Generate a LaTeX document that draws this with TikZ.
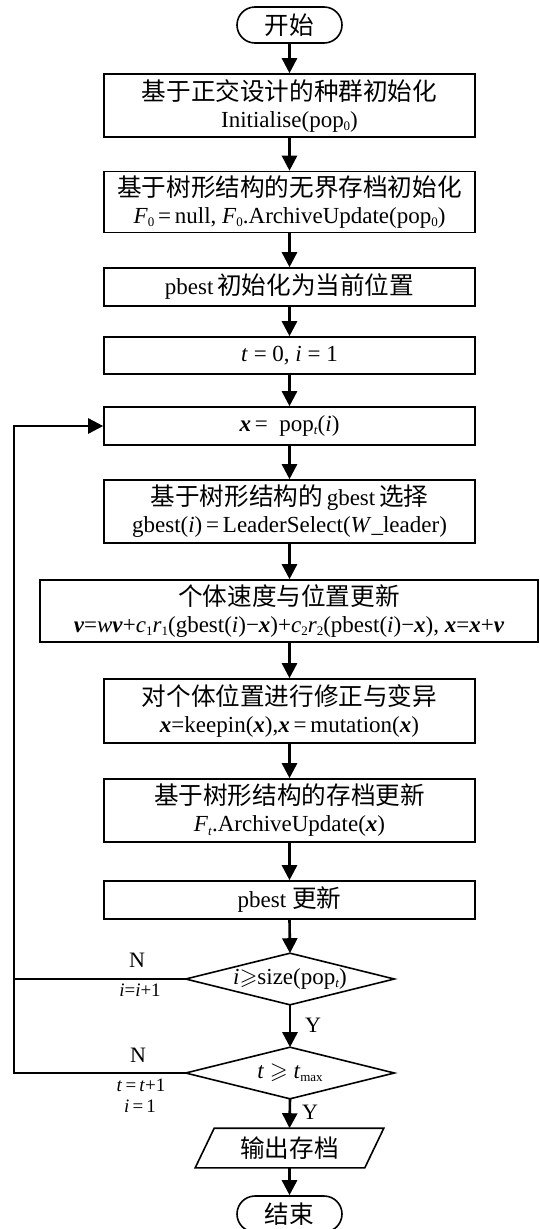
\documentclass[tikz,border=0pt]{standalone}
\usepackage{amssymb}
\usepackage{fontspec}
\setmainfont{Liberation Serif}
\newfontfamily\cjk[Scale=1.07]{Noto Sans CJK SC}
\usetikzlibrary{arrows.meta,shapes.geometric,calc}
\newcommand{\bx}{\textbf{\textit{x}}}
\newcommand{\bv}{\textbf{\textit{v}}}
\newcommand{\mysub}[1]{\raisebox{-0.3ex}{\fontsize{13}{13}\selectfont #1}}
\begin{document}
\begin{tikzpicture}[x=1pt,y=-1pt,
  base/.style={line width=1.6pt, inner sep=0pt, align=center, font=\fontsize{23}{27}\selectfont},
  box/.style={base, draw, minimum width=371pt},
  term/.style={base, draw, rounded corners=18pt, minimum width=105pt, minimum height=36pt},
  dia/.style={base, minimum width=207pt, minimum height=50pt},
  outline/.style={line width=1.6pt, line join=miter},
  arr/.style={line width=2.6pt, -{Triangle[width=15pt,length=15pt]}},
  loopline/.style={line width=2.8pt},
  lbl/.style={inner sep=0pt, font=\fontsize{22}{24}\selectfont},
  slbl/.style={inner sep=0pt, font=\fontsize{19}{22}\selectfont}]
\useasboundingbox (0,0) rectangle (540,1229);

\node[term] (start) at (289.5,25) {\cjk 开始};
\node[box, minimum height=63pt] (b1) at (289.5,105.5) {{\cjk 基于正交设计的种群初始化}\\Initialise(pop\mysub{0})};
\node[box, minimum height=61pt] (b2) at (289.5,202) {{\cjk 基于树形结构的无界存档初始化}\\\textit{F}\mysub{0}\,=\,null, \textit{F}\mysub{0}.ArchiveUpdate(pop\mysub{0})};
\node[box, minimum height=38pt] (b3) at (289.5,287) {pbest\,{\cjk 初始化为当前位置}};
\node[box, minimum height=37pt] (b4) at (289.5,355.5) {\textit{t} = 0, \textit{i} = 1};
\node[box, minimum height=38pt] (b5) at (289.5,426) {\bx\,= \ pop\mysub{\textit{t}}(\textit{i})};
\node[box, minimum height=63pt] (b6) at (289.5,511.5) {{\cjk 基于树形结构的}\,gbest\,{\cjk 选择}\\gbest(\textit{i})\,=\,LeaderSelect(\textit{W}\_leader)};
\node[box, minimum height=62pt, minimum width=498pt] (b7) at (289,611) {{\cjk 个体速度与位置更新}\\\bv=\textit{w}\bv+\textit{c}\mysub{1}\textit{r}\mysub{1}(gbest(\textit{i})−\bx)+\textit{c}\mysub{2}\textit{r}\mysub{2}(pbest(\textit{i})−\bx), \bx=\bx+\bv};
\node[box, minimum height=64pt] (b8) at (289.5,711) {{\cjk 对个体位置进行修正与变异}\\\bx=keepin(\bx),\bx\,=\,mutation(\bx)};
\node[box, minimum height=63pt] (b9) at (289.5,810.5) {{\cjk 基于树形结构的存档更新}\\\textit{F}\mysub{\textit{t}}.ArchiveUpdate(\bx)};
\node[box, minimum height=38pt] (b10) at (289.5,900) {pbest\ {\cjk 更新}};
\node[dia] (d1) at (290,979) {\textit{i}$\geqslant$size(pop\mysub{\textit{t}})};
\draw[outline] (d1.west) -- (d1.north) -- (d1.east) -- (d1.south) -- cycle;
\node[dia] (d2) at (290,1073) {\textit{t} $\geqslant$ \textit{t}\mysub{max}};
\draw[outline] (d2.west) -- (d2.north) -- (d2.east) -- (d2.south) -- cycle;
\node[base, minimum width=168pt, minimum height=38pt] (out) at (289.5,1148) {\cjk 输出存档};
\draw[outline] ($(out.south west)+(-9.5,0)$) -- ($(out.north west)+(9.5,0)$) -- ($(out.north east)+(9.5,0)$) -- ($(out.south east)+(-9.5,0)$) -- cycle;
\node[term] (end) at (289.5,1214) {\cjk 结束};

\draw[arr] (start) -- (b1);
\draw[arr] (b1) -- (b2);
\draw[arr] (b2) -- (b3);
\draw[arr] (b3) -- (b4);
\draw[arr] (b4) -- (b5);
\draw[arr] (b5) -- (b6);
\draw[arr] (b6) -- (b7.north -| b6);
\draw[arr] (b7.south -| b8) -- (b8);
\draw[arr] (b8) -- (b9);
\draw[arr] (b9) -- (b10);
\draw[arr] (b10.south) -- (d1.north);
\draw[arr] (d1.south) -- (d2.north);
\draw[arr] (d2.south) -- (out.north);
\draw[arr] (out.south) -- (end.north);

\coordinate (lt) at (14,426);
\draw[arr] (d2.west) -| (lt) -- (b5.west);
\draw[loopline] (d1.west) -- (d1.west -| lt);

\node[lbl] (n1) at (137,960) {N};
\node[slbl] (c1) at (140,990) {\textit{i}=\textit{i}+1};
\node[lbl] (y1) at (313,1025) {Y};
\node[lbl] (n2) at (138,1055) {N};
\node[slbl] (c2) at (141,1085) {\textit{t}\,=\,\textit{t}+1};
\node[slbl] (c3) at (140,1106) {\textit{i}\,=\,1};
\node[lbl] (y2) at (310,1112) {Y};
\end{tikzpicture}
\end{document}
